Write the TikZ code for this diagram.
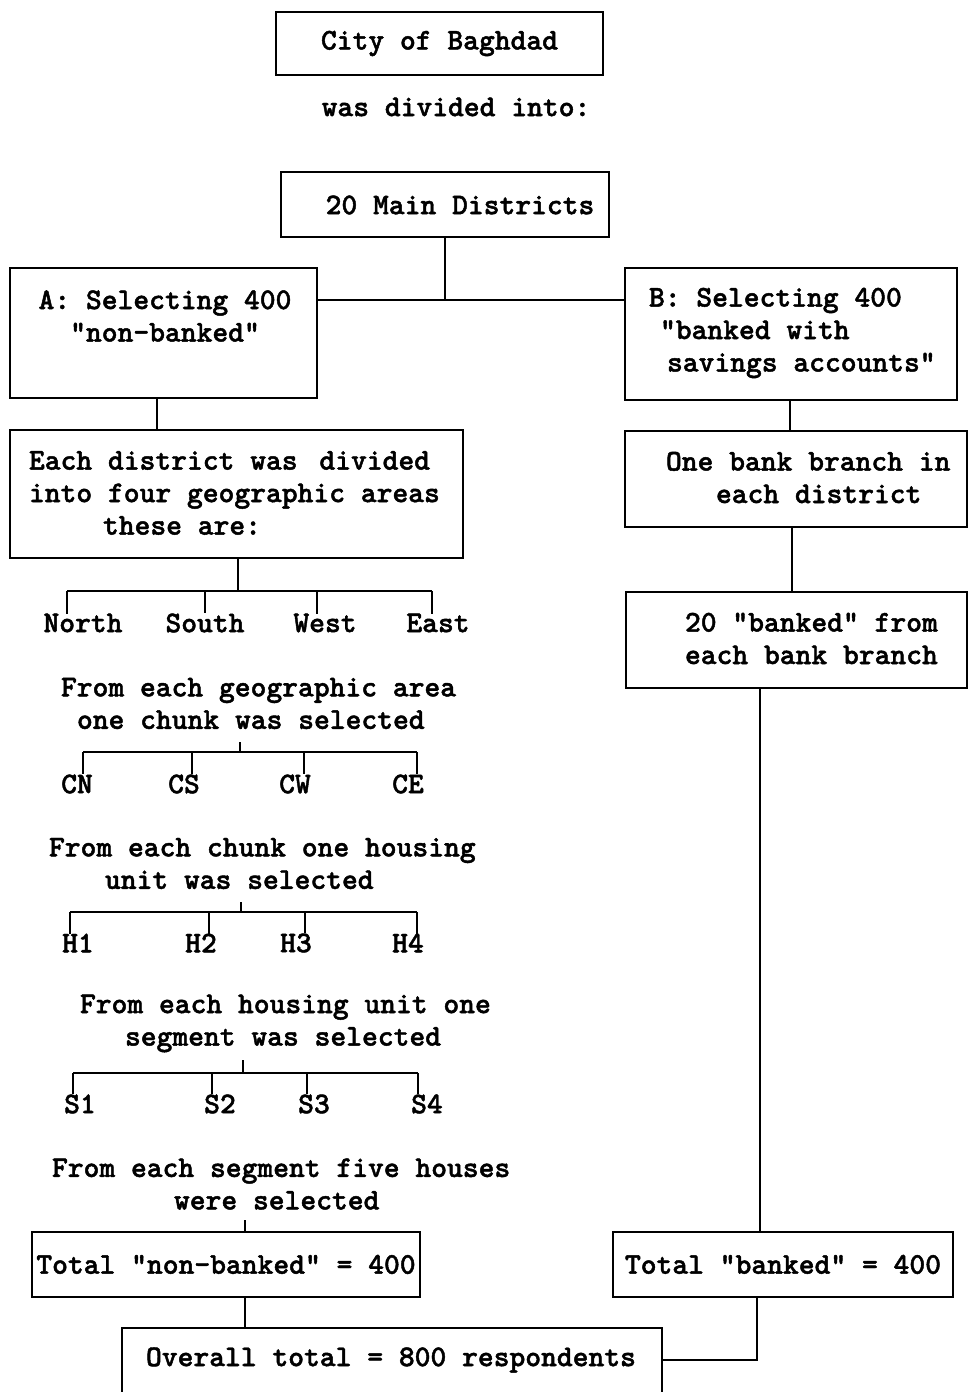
\documentclass[tikz,border=0pt]{standalone}
\usepackage{fontspec}
\newfontfamily\chartfont{lmmonolt10-bold.otf}[FakeBold=1.5]
\begin{document}
\begin{tikzpicture}[x=1pt,y=-1pt,line width=1.6pt,
  every node/.style={inner sep=0pt,outer sep=0pt,
    font=\fontsize{30.1}{32.5}\selectfont\chartfont},
  frame/.style 2 args={draw,rectangle,minimum width=#1,minimum height=#2},
  txt/.style={align=left,anchor=west}]
\clip (0,0) rectangle (969,1392);
\useasboundingbox (0,0) rectangle (969,1392);

% ---- top of the chart
\node[frame={327}{63}] (city) at (439.5,43.5) {City of Baghdad};
\node (divT) at (456,107) {was divided into:};
\node[frame={328}{65}] (dist) at (445,204.5) {};
\node (distT) at (460,205) {20 Main Districts};

% ---- the two samples
\node[frame={307}{130}] (A) at (163.5,333) {};
\node[align=center] (AT) at (165,316) {A: Selecting 400\\"non-banked"};
\node[frame={332}{132}] (B) at (791,334) {};
\node[txt] (BT) at (649,333) {B: Selecting 400\\\hspace*{11pt}"banked with\\\hspace*{18pt}savings accounts"};

\coordinate (jAB) at (445,300);
\draw (dist.south) -- (jAB);
\draw (A.east |- jAB) -- (B.west |- jAB);

% ---- branch A: area sampling
\node[frame={453}{128}] (each) at (236.5,494) {};
\node[txt] (eachT) at (29,493) {Each district was\hspace{6pt} divided\\into four geographic areas\\\hspace*{74pt}these are:};
\coordinate (vA0) at (157,0);
\draw (A.south -| vA0) -- (each.north -| vA0);

% areas
\coordinate (hA) at (238,591);
\coordinate (tA1) at (67,591);
\coordinate (tA2) at (205,591);
\coordinate (tA3) at (317,591);
\coordinate (tA4) at (432,591);
\node (north) at (83,623) {North};
\node (south) at (205,623) {South};
\node (west) at (325,623) {West};
\node (east) at (438,623) {East};
\draw (each.south -| hA) -- (hA);
\draw (tA1) -- (tA4);
\draw (tA1) -- (tA1 |- north.north);
\draw (tA2) -- (tA2 |- south.north);
\draw (tA3) -- (tA3 |- west.north);
\draw (tA4) -- (tA4 |- east.north);

% chunks
\node[txt] (gT) at (61,703.5) {From each geographic area\\\hspace*{16pt}one chunk was selected};
\coordinate (hB0) at (240,742);
\coordinate (hB) at (240,752);
\coordinate (tB1) at (83,752);
\coordinate (tB2) at (192,752);
\coordinate (tB3) at (304,752);
\coordinate (tB4) at (417,752);
\node (cn) at (77,784) {CN};
\node (cs) at (184,784) {CS};
\node (cw) at (295,784) {CW};
\node (ce) at (408,784) {CE};
\draw (hB0) -- (hB);
\draw (tB1) -- (tB4);
\draw (tB1) -- (tB1 |- cn.north);
\draw (tB2) -- (tB2 |- cs.north);
\draw (tB3) -- (tB3 |- cw.north);
\draw (tB4) -- (tB4 |- ce.north);

% housing units
\node[txt] (hT) at (49,863.5) {From each chunk one housing\\\hspace*{56pt}unit was selected};
\coordinate (hC0) at (241,902);
\coordinate (hC) at (241,912);
\coordinate (tC1) at (70,912);
\coordinate (tC2) at (209,912);
\coordinate (tC3) at (305,912);
\coordinate (tC4) at (417,912);
\node (h1) at (78,943) {H1};
\node (h2) at (201,943) {H2};
\node (h3) at (296,943) {H3};
\node (h4) at (408,943) {H4};
\draw (hC0) -- (hC);
\draw (tC1) -- (tC4);
\draw (tC1) -- (tC1 |- h1.north);
\draw (tC2) -- (tC2 |- h2.north);
\draw (tC3) -- (tC3 |- h3.north);
\draw (tC4) -- (tC4 |- h4.north);

% segments
\node[txt] (sT) at (80,1023.5) {From each housing unit one\\\hspace*{45pt}segment was selected};
\coordinate (hD0) at (243,1060);
\coordinate (hD) at (243,1073);
\coordinate (tD1) at (73,1073);
\coordinate (tD2) at (212,1073);
\coordinate (tD3) at (307,1073);
\coordinate (tD4) at (418,1073);
\node (s1) at (80,1104) {S1};
\node (s2) at (220,1104) {S2};
\node (s3) at (314,1104) {S3};
\node (s4) at (427,1104) {S4};
\draw (hD0) -- (hD);
\draw (tD1) -- (tD4);
\draw (tD1) -- (tD1 |- s1.north);
\draw (tD2) -- (tD2 |- s2.north);
\draw (tD3) -- (tD3 |- s3.north);
\draw (tD4) -- (tD4 |- s4.north);

% houses
\node[txt] (fT) at (52,1184) {From each segment five houses\\\hspace*{122pt}were selected};
\coordinate (vA) at (245,1220);

% ---- branch B: bank branches
\node[frame={342}{96}] (bank) at (796,479) {};
\node[txt] (bankT) at (666,477.5) {One bank branch in\\\hspace*{50pt}each district};
\node[frame={341}{96}] (br20) at (796.5,640) {};
\node[txt] (br20T) at (685,638.5) {20 "banked" from\\each bank branch};
\coordinate (vR1) at (790,0);
\coordinate (vR2) at (792,0);
\coordinate (vR3) at (760,0);
\draw (B.south -| vR1) -- (bank.north -| vR1);
\draw (bank.south -| vR2) -- (br20.north -| vR2);

% ---- totals
\node[frame={388}{65}] (totA) at (226,1264.5) {Total "non-banked" = 400};
\node[frame={340}{65}] (totB) at (783,1264.5) {Total "banked" = 400};
\node[frame={540}{72}] (all) at (392,1364) {};
\node (allT) at (391,1360) {Overall total = 800 respondents};
\coordinate (vB) at (757,1360);

\draw (vA) -- (vA |- totA.north);
\draw (totA.south -| vA) -- (all.north -| vA);
\draw (br20.south -| vR3) -- (totB.north -| vR3);
\draw (totB.south -| vB) -- (vB) -- (all.east |- vB);
\end{tikzpicture}
\end{document}
